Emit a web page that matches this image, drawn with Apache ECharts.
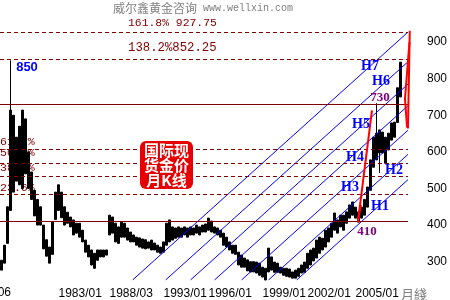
<!DOCTYPE html>
<html>
<head>
<meta charset="utf-8">
<script src="https://cdn.jsdelivr.net/npm/echarts@6/dist/echarts.min.js"></script>
<style>
  html, body { margin: 0; padding: 0; background: #fff; }
  #main { width: 450px; height: 300px; }
</style>
</head>
<body>
<div id="main"></div>
<script>
// monthly bars (one entry per ~3px column)
var lows = [277,296,350,440,490,520,510,500,540,500,470,425,400,400,335,315,296,320,415,440,
  420,400,405,395,373,378,367,354,326,313,291,282,304,313,313,318,373,378,354,350,
  367,367,359,354,354,345,340,337,335,337,332,332,326,323,326,345,354,359,364,367,
  367,373,367,373,373,378,373,381,381,386,381,378,373,367,345,340,332,323,320,291,
  285,285,275,272,272,269,263,258,250,272,277,271,271,269,263,260,258,255,255,260,
  269,271,282,291,302,310,323,332,340,354,367,386,378,395,386,405,419,427,419,408,
  419,427,449,495,558,578,597,597,569,605,632,640,680,750];
var highs = [304,345,450,714,700,640,670,714,690,600,545,495,470,450,400,360,340,410,490,510,
  490,450,435,422,414,405,405,386,359,345,332,323,332,332,332,332,427,422,405,395,
  408,405,392,381,373,367,365,362,360,354,359,351,345,340,354,405,414,395,392,395,
  392,395,392,395,392,400,395,400,403,419,411,395,392,386,378,367,354,345,345,326,
  318,310,305,300,300,299,296,285,282,337,313,299,296,285,282,282,280,272,277,282,
  291,299,323,332,337,359,367,364,386,392,405,433,414,427,427,436,455,463,449,436,
  449,470,504,578,640,651,660,654,640,651,679,681,775,845];
// [index, wick low, wick high] where a thin wick sticks out of the bar
var wicks = [[3, 440, 850], [89, 272, 337], [125, 578, 733], [126, 542, 660]];
var emptyBars = 3;

var tickLabels = [[19, '1983/01'], [36, '1988/03'], [54, '1993/01'], [69, '1996/01'],
  [87, '1999/01'], [102, '2002/01'], [118, '2005/01']];

// golden section between 410 and 730
var fibLevels = [485.5, 532.2, 570, 607.8];
var extLevels = [852.25, 927.75];
var keyLevels = [730, 410];

// parallel channel lines H7..H1: [x0, v0, x1, v1]
var channelLines = [
  [44.2, 250, 136, 927], [55.2, 250, 136, 846], [63.5, 250, 136, 785], [71.5, 250, 136, 726],
  [80.5, 250, 136, 659], [89.5, 250, 136, 593], [98.9, 250, 136, 524]
];
var arrows = [
  [[119.3, 408], [124, 713]],
  [[120.3, 455], [119.3, 409]],
  [[136, 664], [136.6, 931]],
  [[136.5, 900], [135, 745], [135.7, 666]]
];

var n = lows.length + emptyBars;
var categories = [];
for (var i = 0; i < n; i++) categories.push('');
tickLabels.forEach(function (t) { categories[t[0]] = t[1]; });

var bars = [];
for (var i = 0; i < n; i++) {
  if (i >= lows.length) { bars.push('-'); continue; }
  bars.push([lows[i], highs[i], lows[i], highs[i]]);
}
wicks.forEach(function (w) { bars[w[0]][2] = w[1]; bars[w[0]][3] = w[2]; });

function hline(v) { return { coords: [[0, v], [136, v]] }; }

var chart = echarts.init(document.getElementById('main'), null, { renderer: 'canvas' });

var darkRed = '#800000';
var txt = function (text, x, y, font, fill, align, z) {
  return { type: 'text', z: z == null ? 100 : z, style: { text: text, x: x, y: y, font: font, fill: fill,
    align: align || 'center', verticalAlign: 'middle' } };
};

var option = {
  animation: false,
  grid: { left: 0, right: 39, top: 23.7, bottom: 19.7, containLabel: false },
  xAxis: [
    {
      type: 'category', data: categories,
      axisLine: { show: false }, axisTick: { show: false }, splitLine: { show: false },
      axisLabel: {
        interval: function (idx, val) { return val !== ''; },
        align: 'left', margin: 8, color: '#000',
        fontFamily: 'Liberation Sans', fontSize: 12
      }
    },
    { type: 'value', min: 0, max: n, show: false }
  ],
  yAxis: {
    type: 'value', position: 'right', min: 250, max: 950, interval: 50,
    axisLine: { show: false }, axisTick: { show: false }, splitLine: { show: false },
    axisLabel: {
      margin: 16, color: '#000', fontFamily: 'Liberation Sans', fontSize: 12,
      formatter: function (v) { return v % 100 === 0 ? v : ''; }
    }
  },
  series: [
    {
      type: 'candlestick', data: bars, barWidth: 2.5, z: 3,
      itemStyle: { color: '#000', color0: '#000', borderColor: '#000', borderColor0: '#000', borderWidth: 1 }
    },
    {
      type: 'lines', coordinateSystem: 'cartesian2d', xAxisIndex: 1, yAxisIndex: 0, z: 4, silent: true,
      data: channelLines.map(function (l) { return { coords: [[l[0], l[1]], [l[2], l[3]]] }; }),
      lineStyle: { color: '#0000ff', width: 1, opacity: 1 }
    },
    {
      type: 'lines', coordinateSystem: 'cartesian2d', xAxisIndex: 1, yAxisIndex: 0, z: 4, silent: true,
      data: keyLevels.map(hline),
      lineStyle: { color: darkRed, width: 1, opacity: 1 }
    },
    {
      type: 'lines', coordinateSystem: 'cartesian2d', xAxisIndex: 1, yAxisIndex: 0, z: 4, silent: true,
      data: fibLevels.concat(extLevels).map(hline),
      lineStyle: { color: darkRed, width: 1, opacity: 1, type: [4, 3] }
    },
    {
      type: 'lines', coordinateSystem: 'cartesian2d', xAxisIndex: 1, yAxisIndex: 0, z: 5, silent: true,
      polyline: true,
      data: arrows.map(function (a) { return { coords: a }; }),
      symbol: ['none', 'arrow'], symbolSize: 8,
      lineStyle: { color: '#ff0000', width: 2, opacity: 1 }
    }
  ],
  graphic: [
    txt('威尔鑫黄金咨询', 113, 8, '12px "Noto Sans CJK SC"', '#808080', 'left'),
    txt('www.wellxin.com', 203, 8, '10px "Liberation Mono"', '#808080', 'left'),
    txt('161.8% 927.75', 128, 23, '11.4px "Liberation Mono"', darkRed, 'left'),
    txt('138.2%852.25', 128, 48, '12.3px "Liberation Mono"', darkRed, 'left'),
    txt('61.8%', 0, 142, '11.6px "Liberation Mono"', darkRed, 'left', 1),
    txt('50.0%', 0, 153, '11.6px "Liberation Mono"', darkRed, 'left', 1),
    txt('38.2%', 0, 168, '11.6px "Liberation Mono"', darkRed, 'left', 1),
    txt('23.6%', 0, 187.5, '11.6px "Liberation Mono"', darkRed, 'left', 1),
    txt('1979/06', 11, 293, '12px "Liberation Sans"', '#000', 'right'),
    txt('月綫', 401, 294, '13px "Noto Sans CJK SC"', '#808080', 'left'),
    { type: 'rect', z: 100, shape: { x: 140, y: 141, width: 53, height: 48, r: 6 }, style: { fill: '#e60000' } },
    { type: 'text', z: 101, style: { text: '国际现\n货金价\n月K线', x: 166.5, y: 165, align: 'center', verticalAlign: 'middle',
      font: 'bold 15px "Noto Sans CJK SC"', fill: '#fff', lineHeight: 15 } },
    txt('850', 27, 67, 'bold 13px "Liberation Sans"', '#0000ff'),
    txt('H7', 370, 66, 'bold 14px "Liberation Serif"', '#0000ff'),
    txt('H6', 381, 81, 'bold 14px "Liberation Serif"', '#0000ff'),
    txt('H5', 361, 124, 'bold 14px "Liberation Serif"', '#0000ff'),
    txt('H4', 355, 157, 'bold 14px "Liberation Serif"', '#0000ff'),
    txt('H3', 350, 187, 'bold 14px "Liberation Serif"', '#0000ff'),
    txt('H2', 394, 170, 'bold 14px "Liberation Serif"', '#0000ff'),
    txt('H1', 380, 206, 'bold 14px "Liberation Serif"', '#0000ff'),
    txt('730', 380, 98, 'bold 13px "Liberation Serif"', '#800080'),
    txt('410', 367, 232, 'bold 13px "Liberation Serif"', '#800080')
  ]
};
chart.setOption(option);
</script>
</body>
</html>
